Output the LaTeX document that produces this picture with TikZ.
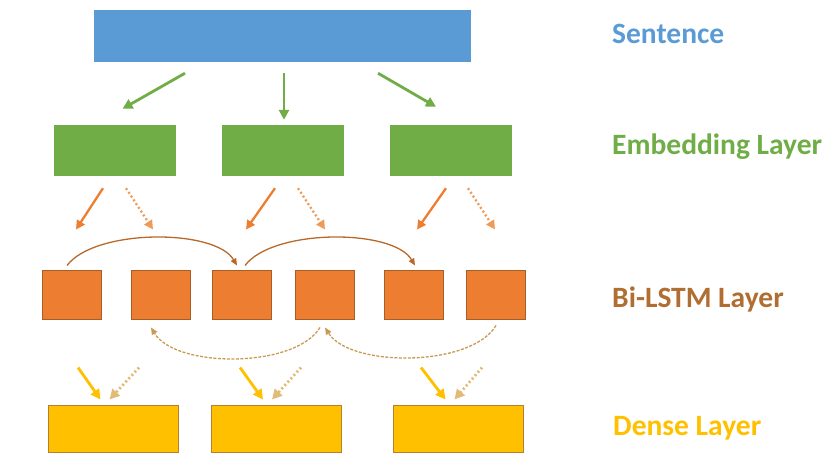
\documentclass[tikz,border=0pt]{standalone}
\usepackage{fontspec}
\newfontfamily\calib{Carlito}
\usetikzlibrary{arrows.meta, calc}

\definecolor{sentblue}{HTML}{5B9BD5}
\definecolor{embgreen}{HTML}{70AD47}
\definecolor{lstmorange}{HTML}{ED7D31}
\definecolor{lstmedge}{HTML}{A65E26}
\definecolor{lstmtext}{HTML}{B06E33}
\definecolor{densegold}{HTML}{FFC000}
\definecolor{denseedge}{HTML}{B5802F}
\definecolor{fwdline}{HTML}{B8692A}
\definecolor{bwdline}{HTML}{C99A52}
\definecolor{dottan}{HTML}{E3BB78}
\definecolor{dotorange}{HTML}{EE9B57}

\tikzset{
    sentbox/.style={fill=sentblue, minimum width=377pt, minimum height=52pt, inner sep=0pt},
    embbox/.style={fill=embgreen, minimum width=122pt, minimum height=51pt, inner sep=0pt},
    lstmbox/.style={fill=lstmorange, draw=lstmedge, line width=1pt, minimum width=59pt, minimum height=49pt, inner sep=0pt},
    densebox/.style={fill=densegold, draw=denseedge, line width=1pt, minimum width=130pt, minimum height=47pt, inner sep=0pt},
    layername/.style={anchor=base west, inner sep=0pt, font=\calib\bfseries\fontsize{29.5}{32}\selectfont},
    greenarrow/.style={draw=embgreen, line width=2.8pt, -{Triangle[length=10pt, width=10pt]}},
    embsolid/.style={draw=lstmorange, line width=2.3pt, -{Triangle[length=9pt, width=9pt]}},
    embdotted/.style={draw=dotorange, line width=2.3pt, dash pattern=on 2pt off 2.5pt, -{Triangle[length=9pt, width=9pt]}},
    fwdarrow/.style={draw=fwdline, line width=1.3pt, -{Triangle[length=7pt, width=6pt]}},
    bwdarrow/.style={draw=bwdline, line width=1.3pt, dash pattern=on 3pt off 1.5pt, -{Triangle[length=7pt, width=6pt]}},
    densesolid/.style={draw=densegold, line width=2.8pt, -{Triangle[length=10pt, width=10pt]}},
    densedotted/.style={draw=dottan, line width=2.8pt, dash pattern=on 2pt off 2.5pt, -{Triangle[length=10pt, width=10pt]}}
}

\begin{document}
\begin{tikzpicture}[x=1pt, y=-1pt]
    \useasboundingbox (0,0) rectangle (833,476);
    % boxes
    \node[sentbox] (sent) at (282.5,36) {};
    \node[embbox] (e1) at (114.5,150.5) {};
    \node[embbox] (e2) at (282.5,150.5) {};
    \node[embbox] (e3) at (451,150.5) {};
    \node[lstmbox] (l1) at (72,294.5) {};
    \node[lstmbox] (l2) at (161,294.5) {};
    \node[lstmbox] (l3) at (242,294.5) {};
    \node[lstmbox] (l4) at (325,294.5) {};
    \node[lstmbox] (l5) at (414,294.5) {};
    \node[lstmbox] (l6) at (496,294.5) {};
    \node[densebox] (d1) at (113.5,428.5) {};
    \node[densebox] (d2) at (276,428.5) {};
    \node[densebox] (d3) at (458.5,428.5) {};
    % layer names
    \node[layername, text=sentblue] (nsent) at (612,44) {Sentence};
    \node[layername, text=embgreen] (nemb) at (612,155) {Embedding Layer};
    \node[layername, text=lstmtext] (nlstm) at (612,307) {Bi-LSTM Layer};
    \node[layername, text=densegold] (ndense) at (613,435) {Dense Layer};
    % sentence to embeddings
    \draw[greenarrow] ($(sent.south)+(-97.5,11)$) -- ($(e1.north)+(8,-16)$);
    \draw[greenarrow] ($(sent.south)+(1.5,11)$) -- ($(e2.north)+(1.5,-5)$);
    \draw[greenarrow] ($(sent.south)+(95.5,11)$) -- ($(e3.north)+(-15,-18)$);
    % embeddings to Bi-LSTM
    \foreach \e/\a/\b/\sa/\sb/\ea/\eb in {e1/l1/l2/-11.5/11.5/4/-8, e2/l3/l4/-7.5/15.5/4/0, e3/l5/l6/-5/17/3/-1} {
        \draw[embsolid] ($(\e.south)+(\sa,12)$) -- ($(\a.north)+(\ea,-40)$);
        \draw[embdotted] ($(\e.south)+(\sb,12)$) -- ($(\b.north)+(\eb,-40)$);
    }
    % forward and backward links
    \draw[fwdarrow] ($(l1.north)+(-5,-4)$) .. controls +(28,-37) and +(-22,-37) .. ($(l3.north)+(-5,-4)$);
    \draw[fwdarrow] ($(l3.north)+(3,-4)$) .. controls +(28,-37) and +(-22,-37) .. ($(l5.north)+(1,-4)$);
    \draw[bwdarrow] ($(l6.south)+(0,6)$) .. controls +(-25,42) and +(25,40) .. ($(l4.south)+(0,8)$);
    \draw[bwdarrow] ($(l4.south)+(-5,8)$) .. controls +(-25,41) and +(25,41) .. ($(l2.south)+(-10,8)$);
    % Bi-LSTM to dense
    \foreach \a/\b/\d/\sa/\sb in {l1/l2/d1/6/-22, l3/l4/d2/-2/-24, l5/l6/d3/7/-14} {
        \draw[densesolid] ($(\a.south)+(\sa,48)$) -- ($(\d.north)+(-13,-5)$);
        \draw[densedotted] ($(\b.south)+(\sb,48)$) -- ($(\d.north)+(-4,-5)$);
    }
\end{tikzpicture}
\end{document}
